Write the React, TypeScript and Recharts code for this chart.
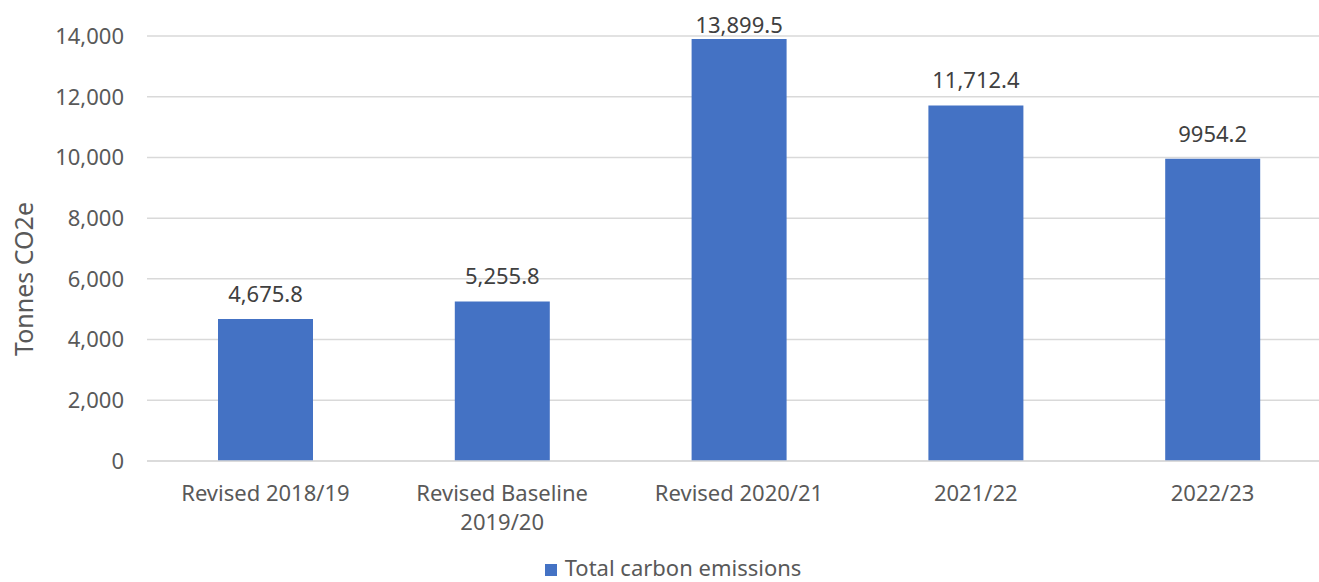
import { BarChart, Bar, XAxis, YAxis, CartesianGrid, Legend, LabelList } from "recharts";

const categories = ["Revised 2018/19", "Revised Baseline\n2019/20", "Revised 2020/21", "2021/22", "2022/23"];
const emissions = [4675.8, 5255.8, 13899.5, 11712.4, 9954.2];
// labels as printed on the original chart (last one has no thousands separator)
const valueLabels = ["4,675.8", "5,255.8", "13,899.5", "11,712.4", "9954.2"];
const yTicks = [0, 2000, 4000, 6000, 8000, 10000, 12000, 14000];

const data = categories.map((c, i) => ({
  name: c,
  total: emissions[i],
  label: valueLabels[i],
}));

const FONT = "'Noto Sans', sans-serif";

const XTick = ({ x, y, payload }: any) => {
  const lines = String(payload.value).split("\n");
  return (
    <text x={x} y={y + 38} textAnchor="middle" fill="#595959" fontSize={22} fontFamily={FONT}>
      {lines.map((l: string, i: number) => (
        <tspan key={i} x={x} dy={i === 0 ? 0 : 29}>
          {l}
        </tspan>
      ))}
    </text>
  );
};

const ValueLabel = ({ x, y, width, index }: any) => {
  // keep label inside the chart area like Excel does
  const base = Math.max(y - 17, 33);
  return (
    <text x={x + width / 2} y={base} textAnchor="middle" fill="#404040" fontSize={22} fontFamily={FONT}>
      {valueLabels[index]}
    </text>
  );
};

const LegendBox = () => (
  <div
    style={{
      display: "flex",
      justifyContent: "center",
      alignItems: "center",
      fontFamily: FONT,
      fontSize: 22,
      lineHeight: "25px",
      color: "#595959",
    }}
  >
    <span style={{ width: 12, height: 12, background: "#4472C4", display: "inline-block", marginRight: 8, marginTop: 5 }} />
    <span>Total carbon emissions</span>
  </div>
);

export default function App() {
  return (
    <div style={{ position: "absolute", left: 0, top: 0, width: 1319, height: 582, overflow: "hidden", background: "#fff" }}>
      <BarChart width={1346} height={582} data={data} margin={{ top: 36, right: 15, bottom: 0, left: 0 }}>
        <CartesianGrid vertical={false} stroke="#d9d9d9" strokeWidth={1.5} />
        <XAxis
          dataKey="name"
          height={121}
          tickLine={false}
          tickSize={0}
          axisLine={{ stroke: "#d9d9d9", strokeWidth: 1.5 }}
          tick={<XTick />}
          interval={0}
        />
        <YAxis
          width={147}
          domain={[0, 14000]}
          ticks={yTicks}
          tickFormatter={(v: number) => v.toLocaleString("en-US")}
          tickLine={false}
          tickSize={0}
          tickMargin={23}
          axisLine={false}
          tick={{ fill: "#595959", fontSize: 22, fontFamily: FONT }}
          label={{
            content: () => (
              <text
                transform="translate(33,279) rotate(-90)"
                textAnchor="middle"
                fill="#595959"
                fontSize={25}
                fontFamily={FONT}
              >
                Tonnes CO2e
              </text>
            ),
          }}
        />
        <Legend
          verticalAlign="middle"
          layout="horizontal"
          content={<LegendBox />}
          wrapperStyle={{ top: 555, left: 0, width: 1346 }}
        />
        <Bar dataKey="total" name="Total carbon emissions" fill="#4472C4" barSize={95} isAnimationActive={false}>
          <LabelList dataKey="label" content={<ValueLabel />} />
        </Bar>
      </BarChart>
    </div>
  );
}
